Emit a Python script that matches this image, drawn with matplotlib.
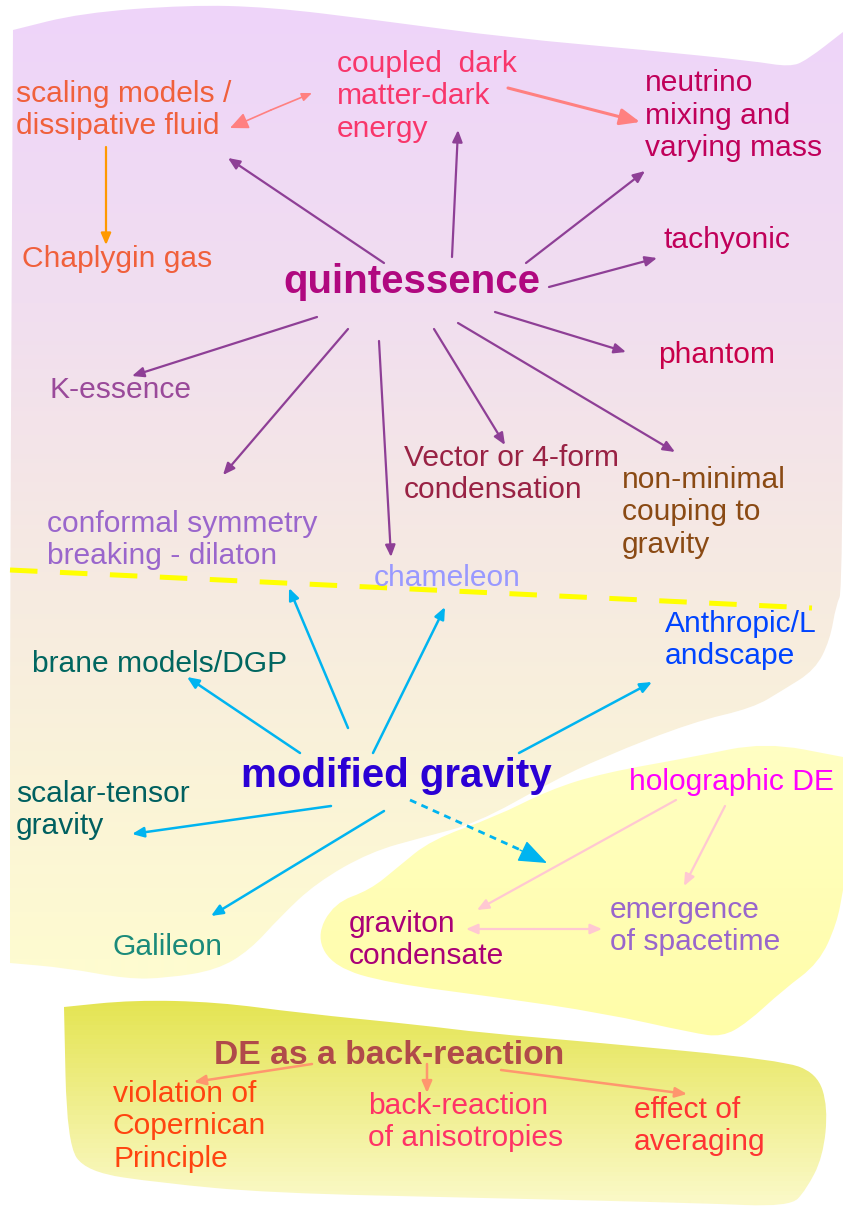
import matplotlib.pyplot as plt
import numpy as np
from matplotlib.colors import LinearSegmentedColormap
from matplotlib.patches import PathPatch, FancyArrowPatch, ArrowStyle
from matplotlib.path import Path

W, H = 843, 1210

# node labels
labels = [
    "scaling models /\ndissipative fluid",
    "coupled  dark\nmatter-dark\nenergy",
    "neutrino\nmixing and\nvarying mass",
    "Chaplygin gas",
    "tachyonic",
    "phantom",
    "K-essence",
    "Vector or 4-form\ncondensation",
    "non-minimal\ncouping to\ngravity",
    "conformal symmetry\nbreaking - dilaton",
    "chameleon",
    "Anthropic/L\nandscape",
    "brane models/DGP",
    "holographic DE",
    "scalar-tensor\ngravity",
    "graviton\ncondensate",
    "emergence\nof spacetime",
    "Galileon",
    "violation of\nCopernican\nPrinciple",
    "back-reaction\nof anisotropies",
    "effect of\naveraging",
]
label_colors = [
    "#F0603C", "#F8366B", "#C0005A", "#F0603C", "#C0005A", "#C8004A",
    "#9A4A9A", "#992244", "#8A4A14", "#9A66CC", "#9999FF", "#0044FF",
    "#006660", "#FF00FF", "#006060", "#AA0077", "#9966CC", "#1A8A7A",
    "#FF4410", "#FF3366", "#FF3333",
]
heads = ["quintessence", "modified gravity", "DE as a back-reaction"]
head_colors = ["#B0087F", "#2A00D4", "#B04A4A"]

# layout: left x, first baseline y (pixels)
label_pos = [
    (16, 102), (337, 72), (645, 91), (22, 267), (664, 248), (658, 363),
    (49, 398), (404, 466), (622, 488), (47, 532), (374, 586), (665, 632),
    (32, 672), (629, 790), (16, 802), (349, 932), (610, 918), (113, 955),
    (113, 1102), (368, 1114), (634, 1118),
]
line_pitch = 32.5
head_pos = [(283, 293), (241, 787), (214, 1064)]
head_sizes = [29, 29, 24.2]

# arrows (start, end)
quint_arrows = [
    ((384, 263), (228, 158)), ((452, 257), (458, 130)), ((526, 263), (645, 171)),
    ((549, 287), (657, 258)), ((495, 312), (626, 352)), ((317, 317), (132, 376)),
    ((348, 329), (223, 475)), ((379, 341), (391, 557)), ((434, 329), (505, 445)),
    ((458, 323), (675, 452)),
]
mg_arrows = [
    ((348, 728), (289, 588)), ((373, 753), (445, 607)), ((300, 753), (187, 677)),
    ((519, 753), (652, 682)), ((331, 806), (132, 834)), ((384, 811), (211, 916)),
]
pink_arrows = [((676, 800), (477, 910)), ((725, 806), (684, 886))]
back_arrows = [((312, 1064), (194, 1082)), ((427, 1064), (427, 1093)),
               ((501, 1070), (687, 1094))]

# background regions (repeated points stay sharp corners)
top_outline = [(13, 30), (13, 30), (81, 13), (188, 5), (269, 7), (376, 20), (511, 38),
               (645, 50), (753, 61), (790, 67), (807, 60), (843, 32), (843, 32),
               (843, 590), (836, 605), (830, 640), (815, 670), (783, 690), (753, 708),
               (693, 722), (603, 757), (549, 783), (477, 823), (424, 837), (370, 852),
               (316, 883), (280, 917), (250, 950), (217, 970), (167, 978), (127, 979),
               (67, 968), (10, 963), (10, 963), (10, 600)]
yellow_outline = [(843, 757), (843, 757), (765, 742), (693, 757), (603, 773), (549, 790),
                  (495, 817), (431, 840), (398, 867), (370, 890), (334, 903), (316, 937),
                  (334, 967), (388, 983), (495, 997), (603, 1013), (693, 1033),
                  (722, 1037), (747, 1023), (783, 990), (819, 963), (837, 923),
                  (843, 890), (843, 890)]
bottom_outline = [(64, 1007), (64, 1007), (133, 1000), (217, 1002), (300, 1013),
                  (420, 1025), (484, 1033), (591, 1042), (780, 1060), (817, 1073),
                  (828, 1107), (823, 1157), (806, 1190), (790, 1207), (699, 1203),
                  (484, 1198), (269, 1193), (161, 1183), (86, 1172), (67, 1143)]

fig = plt.figure(figsize=(W / 100, H / 100), dpi=100)
ax = fig.add_axes([0, 0, 1, 1])
ax.set_xlim(0, W)
ax.set_ylim(H, 0)
ax.axis('off')


def smooth_path(outline):
    # quadratic curves through the edge midpoints, vertices as control points
    p = np.array(outline, dtype=float)
    m = (p + np.roll(p, -1, axis=0)) / 2
    verts = [m[-1]]
    codes = [Path.MOVETO]
    for i in range(len(p)):
        verts += [p[i], m[i]]
        codes += [Path.CURVE3, Path.CURVE3]
    verts.append(m[-1])
    codes.append(Path.CLOSEPOLY)
    return Path(verts, codes)


def fill(outline, stops):
    patch = PathPatch(smooth_path(outline), facecolor='none', edgecolor='none')
    ax.add_patch(patch)
    cmap = LinearSegmentedColormap.from_list('g', [(y / H, c) for y, c in stops])
    grad = np.linspace(0, 1, H).reshape(-1, 1)
    im = ax.imshow(grad, extent=(0, W, H, 0), cmap=cmap, vmin=0, vmax=1,
                   aspect='auto', zorder=0, interpolation='bilinear')
    im.set_clip_path(patch)


fill(top_outline, [(0, '#EED4FA'), (300, '#F1DEF0'), (570, '#F6EAE2'),
                   (960, '#FEFBD0'), (H, '#FEFBD0')])
fill(yellow_outline, [(0, '#FFFFC4'), (740, '#FFFFC4'), (1040, '#FFFDA8'), (H, '#FFFDA8')])
fill(bottom_outline, [(0, '#E4E450'), (1000, '#E4E450'), (1205, '#FBF9C8'), (H, '#FBF9C8')])

ax.plot([10, 812], [570, 608], color='#FFFF00', lw=3.6, dashes=(5.5, 4.5), zorder=1)


def arrow(p0, p1, color, lw=1.5, hl=7, hw=3):
    ax.add_patch(FancyArrowPatch(p0, p1, arrowstyle=ArrowStyle('-|>', head_length=hl, head_width=hw),
                                 mutation_scale=1, color=color, lw=lw,
                                 shrinkA=0, shrinkB=0, zorder=2))


for p0, p1 in quint_arrows:
    arrow(p0, p1, '#8E3F96', lw=1.6)
for p0, p1 in mg_arrows:
    arrow(p0, p1, '#00B4F0', lw=1.8)
for p0, p1 in pink_arrows:
    arrow(p0, p1, '#FFC8D2', lw=1.6)
for p0, p1 in back_arrows:
    arrow(p0, p1, '#FF966E', lw=1.8)

# double arrows drawn as two halves
mid = (271, 110)
arrow(mid, (230, 128), '#FF8080', lw=1.2, hl=11, hw=5)
arrow(mid, (312, 93), '#FF8080', lw=1.2, hl=6, hw=2.5)
mid = (534, 929)
arrow(mid, (466, 929), '#FFC8D2', lw=1.6, hl=7, hw=3)
arrow(mid, (602, 929), '#FFC8D2', lw=1.6, hl=7, hw=3)
arrow((508, 88), (640, 122), '#FF8080', lw=2.2, hl=12, hw=5)
arrow((106, 147), (106, 245), '#FF9900', lw=1.6)

# dotted arrow to graviton condensate
ax.plot([410, 525], [800, 852], color='#00B4F0', lw=2.0, dashes=(2.5, 2.0), zorder=2)
arrow((520, 850), (547, 863), '#00B4F0', lw=1.0, hl=18, hw=7)

for s, (x, y), c in zip(labels, label_pos, label_colors):
    for i, line in enumerate(s.split('\n')):
        ax.text(x, y + i * line_pitch, line, color=c, fontsize=21.6,
                family='Liberation Sans', ha='left', va='baseline', zorder=3)
for s, (x, y), c, fs in zip(heads, head_pos, head_colors, head_sizes):
    ax.text(x, y, s, color=c, fontsize=fs, family='Liberation Sans', fontweight='bold',
            ha='left', va='baseline', zorder=3)

fig.savefig('out.png', dpi=100)
